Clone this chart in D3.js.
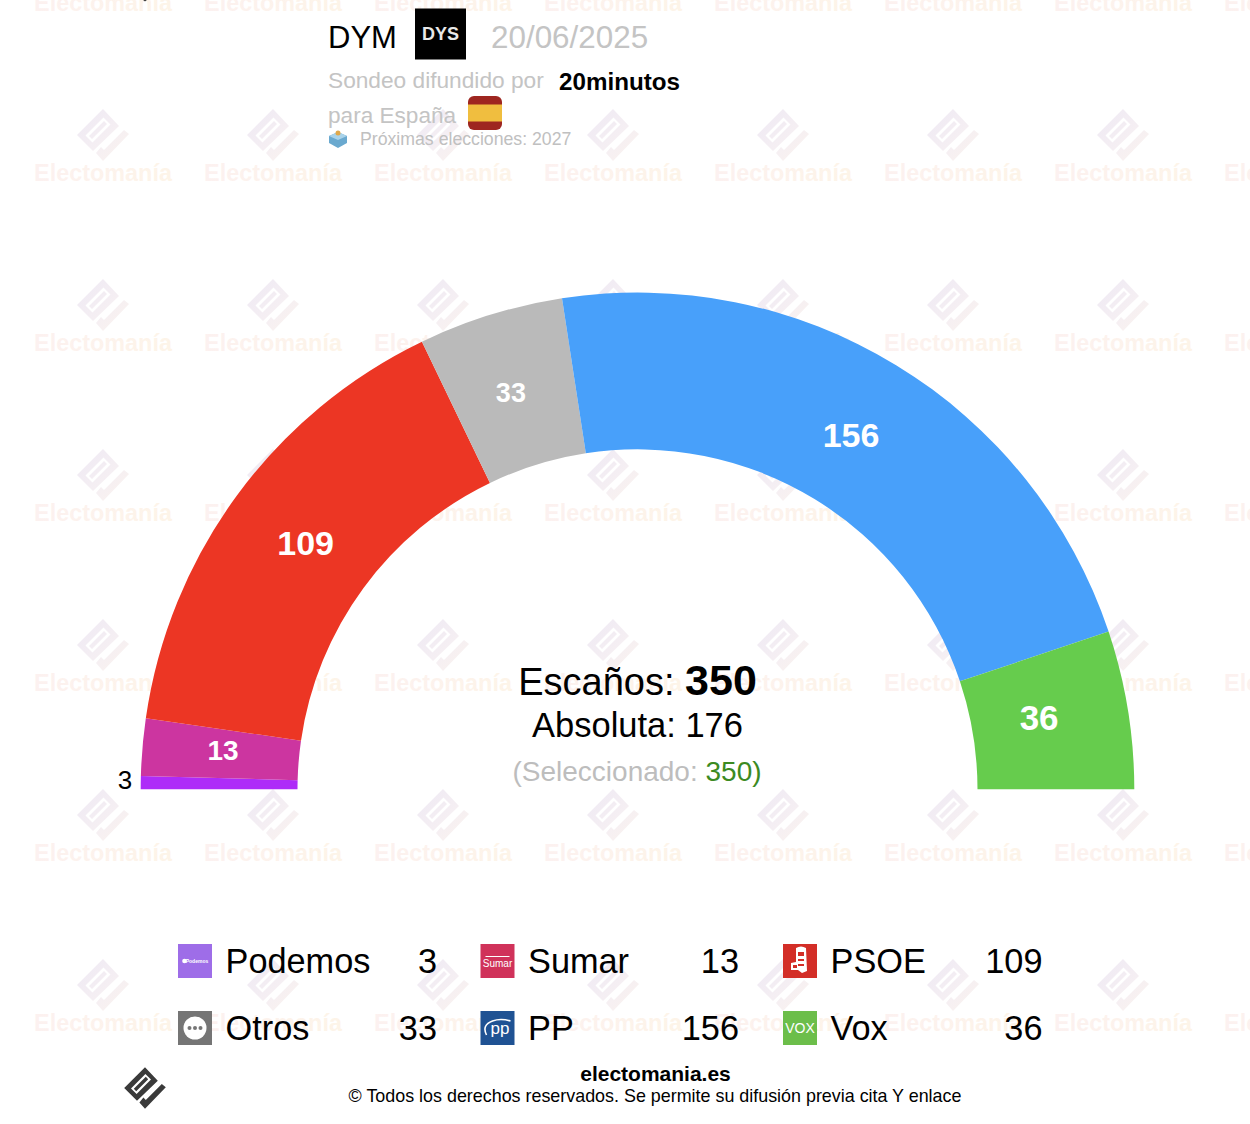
<!DOCTYPE html>
<html><head><meta charset="utf-8">
<script src="https://cdn.jsdelivr.net/npm/d3@7"></script>
<style>html,body{margin:0;padding:0;background:#fff}svg{display:block}text{font-family:"Liberation Sans",Arial,sans-serif}</style>
</head><body><div id="chart"></div>
<script>
const parties = ["Podemos","Sumar","PSOE","Otros","PP","Vox"];
const seats = [3,13,109,33,156,36];
const colors = ["#AE2BF8","#CC35A0","#EC3624","#BABABA","#48A0FA","#66CC4D"];
const totalSeats = 350, majority = 176, selected = 350;
const pollster = "DYM", pollDate = "20/06/2025", media = "20minutos";

const W = 1250, H = 1124;
const svg = d3.select("#chart").append("svg").attr("width",W).attr("height",H);
const defs = svg.append("defs");
const g1 = defs.append("linearGradient").attr("id","wmLogo").attr("x1","0").attr("x2","1").attr("y1","0").attr("y2","1");
g1.append("stop").attr("offset","0").attr("stop-color","#eee9f4");
g1.append("stop").attr("offset","0.55").attr("stop-color","#f5eff3");
g1.append("stop").attr("offset","1").attr("stop-color","#fbf3ee");
const g2 = defs.append("linearGradient").attr("id","wmText");
g2.append("stop").attr("offset","0").attr("stop-color","#fcf1f0");
g2.append("stop").attr("offset","1").attr("stop-color","#fdf4e8");

// Logo drawn once and reused for the watermark and the footer
const logoPath = "M0,-26 L16,-9 L-10,16 L-26,0 Z "
  + "M7.5,-10.5 L0.5,-17.5 L-17.5,0.5 L-10.5,7.5 Z "
  + "M4,-11 L1,-14 L-14,1 L-11,4 Z "
  + "M26,-1 L21,-5 L1,15 L-2,12 L-7,18 L0,26 Z";
const wm = svg.append("g");
d3.range(-1,7).forEach(r=>d3.range(0,8).forEach(c=>{
  const x = 103+170*c, y = 135+170*r;
  wm.append("path").attr("d",logoPath).attr("fill-rule","evenodd").attr("fill","url(#wmLogo)")
    .attr("transform",`translate(${x},${y})`);
  wm.append("text").attr("x",x).attr("y",y+46).attr("text-anchor","middle").attr("font-size",23.4).attr("font-weight",700)
    .attr("fill","url(#wmText)").text("Electomanía");
}));
svg.append("circle").attr("cx",145).attr("cy",-0.4).attr("r",1.6).attr("fill","#444");

// Hemicycle
const cx = 637.5, cy = 789.3, R = 496.8, r0 = 340;
const angle = d3.scaleLinear().domain([0,totalSeats]).range([-Math.PI/2,Math.PI/2]);
const arc = d3.arc().innerRadius(r0).outerRadius(R);
const cum = d3.cumsum(seats);
const segs = seats.map((v,i)=>({party:parties[i],v,start:cum[i]-v,end:cum[i],color:colors[i]}));
const hemi = svg.append("g").attr("transform",`translate(${cx},${cy})`);
hemi.selectAll("path").data(segs).join("path")
  .attr("d",d=>arc({startAngle:angle(d.start),endAngle:angle(d.end)}))
  .attr("fill",d=>d.color);
const labelSize = {Sumar:28,PSOE:34,Otros:27,PP:34,Vox:35};
const labelNudgeX = {Sumar:-2,PSOE:2,Otros:-4,PP:-2,Vox:-7};
const labelNudgeY = {Sumar:-4,PSOE:-1.5,Otros:-1.5,PP:-1,Vox:-5};
hemi.selectAll("text.v").data(segs.filter(d=>d.v>3)).join("text").attr("class","v")
  .attr("x",d=>414*Math.sin(angle((d.start+d.end)/2))+labelNudgeX[d.party])
  .attr("y",d=>-414*Math.cos(angle((d.start+d.end)/2))+labelNudgeY[d.party])
  .attr("dy","0.36em").attr("text-anchor","middle").attr("font-weight",700).attr("fill","#fff")
  .attr("font-size",d=>labelSize[d.party]).text(d=>d.v);
svg.append("text").attr("x",125).attr("y",789).attr("text-anchor","middle").attr("font-size",26).attr("fill","#000").text(seats[0]);

// Centre
const c1 = svg.append("text").attr("x",637.5).attr("y",695).attr("text-anchor","middle").attr("fill","#000");
c1.append("tspan").attr("font-size",38).text("Escaños: ");
c1.append("tspan").attr("font-size",43).attr("font-weight",700).text(totalSeats);
svg.append("text").attr("x",637.5).attr("y",737).attr("text-anchor","middle").attr("font-size",34.5).attr("fill","#000").text("Absoluta: "+majority);
const c3 = svg.append("text").attr("x",637).attr("y",781).attr("text-anchor","middle").attr("font-size",28).attr("fill","#bdbdbd");
c3.append("tspan").text("(Seleccionado: ");
c3.append("tspan").attr("fill","#3c8a22").text(selected);
c3.append("tspan").attr("fill","#3c8a22").text(")");

// Header
svg.append("text").attr("x",328).attr("y",48).attr("font-size",31).attr("fill","#000").text(pollster);
svg.append("rect").attr("x",415).attr("y",8.5).attr("width",51).attr("height",51).attr("fill","#000");
svg.append("text").attr("x",440.5).attr("y",40).attr("text-anchor","middle").attr("font-size",18).attr("font-weight",700).attr("fill","#e8e8e8").text("DYS");
svg.append("text").attr("x",491).attr("y",48).attr("font-size",31.4).attr("fill","#c4c4c4").text(pollDate);
svg.append("text").attr("x",328).attr("y",88).attr("font-size",22.7).attr("fill","#c4c4c4").text("Sondeo difundido por");
svg.append("text").attr("x",559).attr("y",90).attr("font-size",24.2).attr("font-weight",700).attr("fill","#000").text(media);
svg.append("text").attr("x",328).attr("y",123).attr("font-size",22.6).attr("fill","#c4c4c4").text("para España");
const fl = svg.append("g");
fl.append("rect").attr("x",468).attr("y",96).attr("width",34).attr("height",34).attr("rx",6).attr("fill","#9E2620");
fl.append("rect").attr("x",468).attr("y",104.5).attr("width",34).attr("height",17).attr("fill","#F0BE3F");
// ballot box
svg.append("path").attr("d","M329,136 L338,132 L347,136 L347,143 L338,148 L329,143 Z").attr("fill","#6AA9CF");
svg.append("path").attr("d","M329,136 L338,140 L347,136 L338,132 Z").attr("fill","#A9D3EA");
svg.append("circle").attr("cx",338).attr("cy",133).attr("r",2.5).attr("fill","#E0A84A");
svg.append("text").attr("x",360).attr("y",145).attr("font-size",17.7).attr("fill","#c0c0c0").text("Próximas elecciones: 2027");

// Legend
const colX = d3.scalePoint().domain([0,1,2]).range([178,783]);
const rowY = d3.scalePoint().domain([0,1]).range([944,1011]);
const valRight = [437,739,1042.5];
const iconFill = {Podemos:"#9E6DE8",Sumar:"#D0325A",PSOE:"#D32E27",Otros:"#757575",PP:"#1F5293",Vox:"#6CBE4A"};
parties.forEach((p,i)=>{
  const col = i%3, row = Math.floor(i/3), x = colX(col), y = rowY(row);
  const g = svg.append("g").attr("transform",`translate(${x},${y})`);
  g.append("rect").attr("width",34).attr("height",34).attr("fill",iconFill[p]);
  const t = (s,size,dx,dy,w)=>g.append("text").attr("x",dx).attr("y",dy).attr("text-anchor","middle").attr("font-size",size).attr("font-weight",w||400).attr("fill","#fff").text(s);
  if(p==="Podemos"){ g.append("circle").attr("cx",6.5).attr("cy",17).attr("r",2.3).attr("fill","#fff"); t("Podemos",5,19,19,700); }
  if(p==="Sumar"){ g.append("rect").attr("x",5).attr("y",12).attr("width",24).attr("height",1).attr("fill","#fff"); t("Sumar",10,17,23,400); }
  if(p==="PSOE"){ g.append("path").attr("fill","#fff").attr("fill-rule","evenodd")
      .attr("d","M13,4 Q18,1 23,4 L24,27 L19,29 L15,26 L8,26 L8,19 L13,18 Z M15,8 L21,8 L21,12 L15,12 Z M15,15 L21,15 L21,17 L15,17 Z M15,20 L21,20 L21,22 L15,22 Z M10,21 L10,24 L14,24 L14,21 Z"); }
  if(p==="Otros"){ g.append("circle").attr("cx",17).attr("cy",17).attr("r",11.5).attr("fill","#fff");
      [11.5,17,22.5].forEach(d=>g.append("circle").attr("cx",d).attr("cy",17).attr("r",2).attr("fill","#757575")); }
  if(p==="PP"){ g.append("path").attr("d","M6,24 Q1,14 12,10 Q20,7 30,10").attr("fill","none").attr("stroke","#fff").attr("stroke-width",1.6); t("pp",17,19.5,23,400); }
  if(p==="Vox"){ t("VOX",14,17,22,400); }
  svg.append("text").attr("x",x+47.5).attr("y",y+29).attr("font-size",34.3).attr("fill","#000").text(p);
  svg.append("text").attr("x",valRight[col]).attr("y",y+29).attr("text-anchor","end").attr("font-size",34.3).attr("fill","#000").text(seats[i]);
});

// Footer
svg.append("path").attr("d",logoPath).attr("fill-rule","evenodd").attr("fill","#3a3a3a").attr("transform","translate(145,1088) scale(0.8)");
svg.append("text").attr("x",655.5).attr("y",1081).attr("text-anchor","middle").attr("font-size",21).attr("font-weight",700).attr("fill","#000").text("electomania.es");
svg.append("text").attr("x",655).attr("y",1102).attr("text-anchor","middle").attr("font-size",17.9).attr("fill","#000").text("© Todos los derechos reservados. Se permite su difusión previa cita Y enlace");
</script></body></html>
